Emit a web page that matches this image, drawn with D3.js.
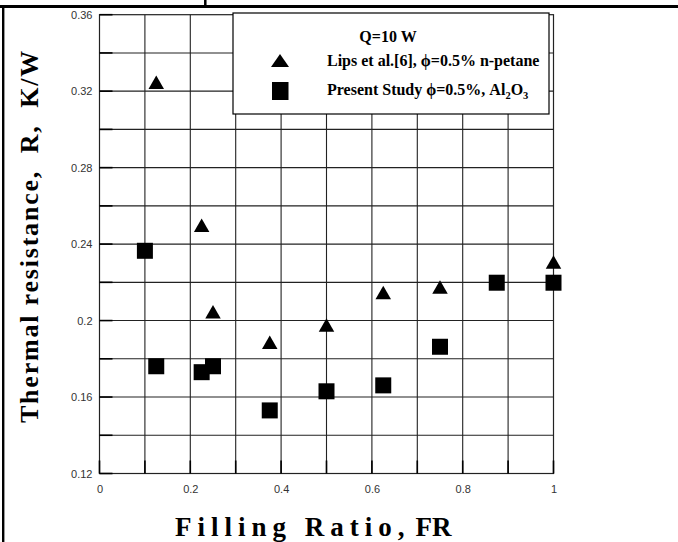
<!DOCTYPE html>
<html>
<head>
<meta charset="utf-8">
<script src="https://cdn.jsdelivr.net/npm/d3@7"></script>
<style>
  html, body { margin: 0; padding: 0; background: #fff; }
  svg { display: block; }
</style>
</head>
<body>
<svg id="chart" width="678" height="542"></svg>
<script>
// ---- data ----
const lipsFR = [0.125, 0.225, 0.25, 0.375, 0.5, 0.625, 0.75, 1.0];
const lipsR = [0.3247, 0.2498, 0.2046, 0.1886, 0.1977, 0.2147, 0.2176, 0.2306];
const presentFR = [0.1, 0.125, 0.225, 0.25, 0.375, 0.5, 0.625, 0.75, 0.875, 1.0];
const presentR = [0.2365, 0.1761, 0.1730, 0.1761, 0.1530, 0.1630, 0.1661, 0.1863, 0.2198, 0.2198];
const xTickValues = [0, 0.2, 0.4, 0.6, 0.8, 1];
const xTickLabels = ["0", "0.2", "0.4", "0.6", "0.8", "1"];
const yTickValues = [0.12, 0.16, 0.2, 0.24, 0.28, 0.32, 0.36];
const yTickLabels = ["0.12", "0.16", "0.2", "0.24", "0.28", "0.32", "0.36"];
const xGrid = [0.1, 0.2, 0.3, 0.4, 0.5, 0.6, 0.7, 0.8, 0.9];
const yGrid = [0.14, 0.16, 0.18, 0.2, 0.22, 0.24, 0.26, 0.28, 0.3, 0.32, 0.34];
const legendTitle = "Q=10 W";
const legendLips = "Lips et al.[6], \u03D5=0.5% n-petane";
const xTitle = "Filling Ratio,";
const xTitle2 = "FR";
const yTitle = "Thermal resistance,  R,  K/W";

// ---- layout ----
const svg = d3.select("#chart");
const pL = 99.5, pR = 553.5, pT = 14.7, pB = 473.5;
const x = d3.scaleLinear().domain([0, 1]).range([pL, pR]);
const y = d3.scaleLinear().domain([0.12, 0.36]).range([pB, pT]);

// outer frame pieces
svg.append("line").attr("x1", 0).attr("x2", 678).attr("y1", 6.5).attr("y2", 6.5)
  .attr("stroke", "#000").attr("stroke-width", 3);
svg.append("line").attr("x1", 3.2).attr("x2", 3.2).attr("y1", 5).attr("y2", 542)
  .attr("stroke", "#000").attr("stroke-width", 2.4);
svg.append("line").attr("x1", 205.3).attr("x2", 205.3).attr("y1", 0).attr("y2", 6)
  .attr("stroke", "#000").attr("stroke-width", 2.5);

// grid
const g = svg.append("g");
g.selectAll("line.vx").data(xGrid).enter().append("line")
  .attr("x1", d => x(d)).attr("x2", d => x(d)).attr("y1", pT).attr("y2", pB)
  .attr("stroke", "#222").attr("stroke-width", 1.1);
g.selectAll("line.hy").data(yGrid).enter().append("line")
  .attr("x1", pL).attr("x2", pR).attr("y1", d => y(d)).attr("y2", d => y(d))
  .attr("stroke", "#222").attr("stroke-width", 1.1);
g.append("rect").attr("x", pL).attr("y", pT).attr("width", pR - pL).attr("height", pB - pT)
  .attr("fill", "none").attr("stroke", "#222").attr("stroke-width", 1.2);

// inner ticks
g.selectAll("line.ty").data(yGrid.concat([0.12, 0.36])).enter().append("line")
  .attr("x1", pL).attr("x2", pL + 13).attr("y1", d => y(d)).attr("y2", d => y(d))
  .attr("stroke", "#000").attr("stroke-width", 1.6);
g.selectAll("line.tx").data([0].concat(xGrid).concat([1])).enter().append("line")
  .attr("x1", d => x(d)).attr("x2", d => x(d)).attr("y1", pB).attr("y2", pB - 13)
  .attr("stroke", "#000").attr("stroke-width", 1.6);

// axes labels
const yAxis = d3.axisLeft(y).tickValues(yTickValues)
  .tickFormat((d, i) => yTickLabels[i]).tickSize(0).tickPadding(7);
const yAx = svg.append("g").attr("transform", `translate(${pL},0)`).call(yAxis);
yAx.select(".domain").remove();
yAx.selectAll("text").attr("font-family", "Liberation Sans, Arial, sans-serif")
  .attr("font-size", 11).attr("fill", "#333");

const xAxis = d3.axisBottom(x).tickValues(xTickValues)
  .tickFormat((d, i) => xTickLabels[i]).tickSize(0).tickPadding(12);
const xAx = svg.append("g").attr("transform", `translate(0,${pB})`).call(xAxis);
xAx.select(".domain").remove();
xAx.selectAll("text").attr("font-family", "Liberation Sans, Arial, sans-serif")
  .attr("font-size", 11).attr("fill", "#333");

// markers
const triW = 15.5, triH = 13.5, sq = 16;
const triPath = (cx, cy) => `M${cx},${cy - triH / 2}L${cx + triW / 2},${cy + triH / 2}L${cx - triW / 2},${cy + triH / 2}Z`;
svg.append("g").selectAll("rect").data(presentFR.map((d, i) => [d, presentR[i]])).enter().append("rect")
  .attr("x", d => x(d[0]) - sq / 2).attr("y", d => y(d[1]) - sq / 2)
  .attr("width", sq).attr("height", sq).attr("fill", "#000");
svg.append("g").selectAll("path").data(lipsFR.map((d, i) => [d, lipsR[i]])).enter().append("path")
  .attr("d", d => triPath(x(d[0]), y(d[1]))).attr("fill", "#000");

// legend
const lg = svg.append("g");
lg.append("rect").attr("x", 233).attr("y", 13).attr("width", 316).attr("height", 101)
  .attr("fill", "#fff").attr("stroke", "#000").attr("stroke-width", 1.2);
const serif = "Liberation Serif, Times New Roman, serif";
const lfs = 16;
lg.append("text").attr("x", 388).attr("y", 42).attr("text-anchor", "middle")
  .attr("font-family", serif).attr("font-weight", "bold").attr("font-size", lfs).text(legendTitle);
lg.append("path").attr("d", `M280,54L289,67L271,67Z`).attr("fill", "#000");
lg.append("text").attr("x", 327).attr("y", 66).attr("font-family", serif).attr("font-weight", "bold")
  .attr("font-size", lfs).text(legendLips);
lg.append("rect").attr("x", 272).attr("y", 82).attr("width", 16.5).attr("height", 18).attr("fill", "#000");
const t2 = lg.append("text").attr("x", 327).attr("y", 95).attr("font-family", serif)
  .attr("font-weight", "bold").attr("font-size", lfs);
t2.append("tspan").text("Present Study \u03D5=0.5%, Al");
t2.append("tspan").attr("font-size", 10.5).attr("dy", 4).text("2");
t2.append("tspan").attr("dy", -4).text("O");
t2.append("tspan").attr("font-size", 10.5).attr("dy", 4).text("3");

// axis titles
const xt = svg.append("text").attr("x", 175).attr("y", 536)
  .attr("font-family", serif).attr("font-weight", "bold").attr("font-size", 27);
xt.append("tspan").attr("letter-spacing", 6).text(xTitle);
xt.append("tspan").attr("dx", 5).text(xTitle2);

svg.append("text").attr("transform", "translate(37.5,236) rotate(-90)").attr("text-anchor", "middle")
  .attr("font-family", serif).attr("font-weight", "bold").attr("font-size", 26)
  .attr("letter-spacing", 1.8).style("white-space", "pre").text(yTitle);
</script>
</body>
</html>
